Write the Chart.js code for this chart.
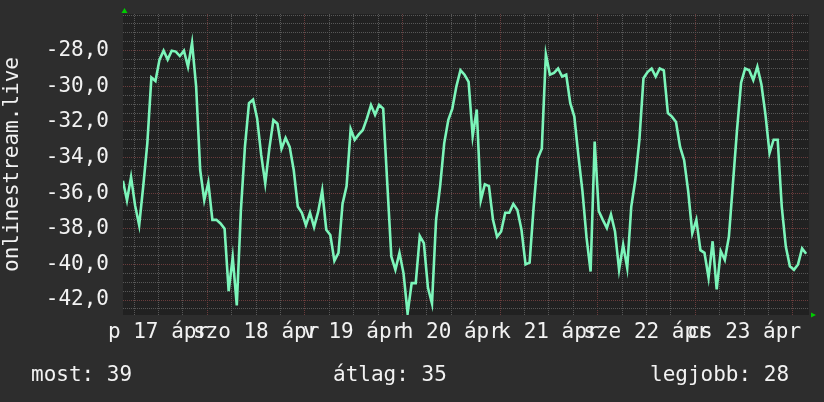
<!DOCTYPE html>
<html lang="hu">
  <head>
    <meta charset="UTF-8" />
    <title>onlinestream.live</title>
    <script src="https://cdn.jsdelivr.net/npm/chart.js"></script>
    <style>
      * {
        margin: 0;
        padding: 0;
      }
      body {
        background: #2d2d2d;
        width: 824px;
        height: 402px;
        overflow: hidden;
      }
      canvas {
        display: block;
      }
    </style>
  </head>
  <body>
    <canvas id="chart" width="824" height="402"></canvas>

    <script>
      // time axis in hours from 17 Apr 00:00
      const startHour = 3.25;
      const stepHours = 1;

      const dayHours = [12, 36, 60, 84, 108, 132, 156];
      const dayLabels = [
        "p 17 ápr",
        "szo 18 ápr",
        "v 19 ápr",
        "h 20 ápr",
        "k 21 ápr",
        "sze 22 ápr",
        "cs 23 ápr",
      ];

      const yLabelValues = [-28, -30, -32, -34, -36, -38, -40, -42];

      // hourly rank values
      const values = [
        -35.3, -36.4, -35.1, -36.7, -37.8, -35.6, -33.2, -29.5, -29.7, -28.5,
        -28.0, -28.5, -28.0, -28.05, -28.3, -28.0, -28.9, -27.55, -30.0, -34.7,
        -36.4, -35.4, -37.5, -37.5, -37.7, -38.0, -41.5, -39.6, -42.3, -37.0,
        -33.4, -30.95, -30.75, -31.8, -33.85, -35.45, -33.5, -31.9, -32.1, -33.5,
        -32.9, -33.4, -34.7, -36.75, -37.1, -37.8, -37.1, -37.9, -37.05, -35.85,
        -38.05, -38.35, -39.8, -39.35, -36.6, -35.6, -32.4, -33.0, -32.7, -32.45,
        -31.8, -31.05, -31.6, -31.05, -31.25, -35.45, -39.55, -40.3, -39.35, -40.5,
        -42.75, -41.05, -41.05, -38.4, -38.8, -41.3, -42.2, -37.5, -35.6, -33.2,
        -31.9, -31.25, -30.0, -29.1, -29.35, -29.75, -32.8, -31.3, -36.4, -35.5,
        -35.6, -37.5, -38.45, -38.15, -37.1, -37.1, -36.6, -36.95, -38.05, -40.0,
        -39.9, -36.75, -34.05, -33.5, -28.2, -29.35, -29.25, -29.0, -29.45, -29.35,
        -30.95, -31.7, -33.9, -35.9, -38.5, -40.4, -33.1, -37.0, -37.5, -37.95,
        -37.2, -38.15, -40.3, -38.9, -40.2, -36.75, -35.25, -33.0, -29.55, -29.2,
        -29.0, -29.45, -29.0, -29.1, -31.5, -31.7, -32.0, -33.4, -34.15, -35.9,
        -38.25, -37.5, -39.2, -39.35, -40.75, -38.7, -41.4, -39.25, -39.75, -38.45,
        -35.45, -32.45, -29.8, -29.0, -29.1, -29.65, -28.9, -29.9, -31.6, -33.75,
        -33.0, -33.0, -36.75, -39.0, -40.1, -40.3, -40.0, -39.1, -39.4,
      ];

      const legendLabels = ["most", "átlag", "legjobb"];
      const legendValues = [39, 35, 28];

      const FONT = '"DejaVu Sans Mono", monospace';
      const TEXT = "#f2f2f2";
      const MINOR = "#575757";
      const MAJOR = "#6a3c3c";

      // backgrounds, arrows and the bottom legend line
      const rrdLook = {
        id: "rrdLook",
        beforeDraw(chart) {
          const { ctx, chartArea: a } = chart;
          ctx.save();
          ctx.fillStyle = "#2d2d2d";
          ctx.fillRect(0, 0, chart.width, chart.height);
          ctx.fillStyle = "#212121";
          ctx.fillRect(a.left, a.top, a.right - a.left, a.bottom - a.top);
          ctx.restore();
        },
        afterDraw(chart) {
          const { ctx, chartArea: a } = chart;
          ctx.save();
          ctx.fillStyle = "#00cc00";
          ctx.beginPath();
          ctx.moveTo(a.left + 1.5, 8);
          ctx.lineTo(a.left + 4.5, 13);
          ctx.lineTo(a.left - 1.5, 13);
          ctx.closePath();
          ctx.fill();
          ctx.beginPath();
          ctx.moveTo(a.right + 7, a.bottom);
          ctx.lineTo(a.right + 2, a.bottom - 2.5);
          ctx.lineTo(a.right + 2, a.bottom + 2.5);
          ctx.closePath();
          ctx.fill();

          ctx.fillStyle = TEXT;
          ctx.font = "21px " + FONT;
          ctx.textBaseline = "alphabetic";
          const xs = [31, 333, 650];
          legendLabels.forEach((l, i) => {
            ctx.fillText(l + ": " + legendValues[i], xs[i], 381);
          });
          ctx.restore();
        },
      };

      const ctx = document.getElementById("chart").getContext("2d");

      new Chart(ctx, {
        type: "line",
        data: {
          datasets: [
            {
              data: values.map((v, i) => ({ x: startHour + i * stepHours, y: v })),
              borderColor: "#7cf5ba",
              borderWidth: 2.6,
              pointRadius: 0,
              tension: 0,
              fill: false,
            },
          ],
        },
        options: {
          responsive: false,
          animation: false,
          layout: { padding: { top: 14, right: 15, left: 0, bottom: 0 } },
          plugins: {
            legend: { display: false },
            tooltip: { enabled: false },
          },
          scales: {
            x: {
              type: "linear",
              min: 3.27,
              max: 171.95,
              afterFit(scale) {
                scale.height = 87;
                scale.paddingLeft = 0;
                scale.paddingRight = 0;
              },
              afterBuildTicks(scale) {
                const t = [];
                for (let h = 6; h <= 168; h += 6) t.push({ value: h });
                scale.ticks = t;
              },
              ticks: {
                autoSkip: false,
                maxRotation: 0,
                minRotation: 0,
                padding: 5,
                color: TEXT,
                font: { family: FONT, size: 21 },
                callback(v) {
                  const i = dayHours.indexOf(v);
                  return i >= 0 ? dayLabels[i] : "";
                },
              },
              grid: {
                drawTicks: false,
                lineWidth: 1,
                color: (c) => (c.tick && c.tick.value % 24 === 0 ? MAJOR : MINOR),
              },
              border: { display: false, dash: [1, 1] },
            },
            y: {
              min: -42.84,
              max: -25.94,
              afterFit(scale) {
                scale.width = 123;
                scale.paddingTop = 0;
                scale.paddingBottom = 0;
              },
              afterBuildTicks(scale) {
                const t = [];
                for (let k = 0; k <= 33; k++) t.push({ value: -42.5 + k * 0.5 });
                scale.ticks = t;
              },
              ticks: {
                autoSkip: false,
                padding: 14,
                color: TEXT,
                font: { family: FONT, size: 21 },
                callback(v) {
                  return yLabelValues.includes(v) ? v.toFixed(1).replace(".", ",") : "";
                },
              },
              title: {
                display: true,
                text: "onlinestream.live",
                color: TEXT,
                font: { family: FONT, size: 21 },
                padding: { top: 0, bottom: 0 },
              },
              grid: {
                drawTicks: false,
                lineWidth: 1,
                color: (c) => (c.tick && yLabelValues.includes(c.tick.value) ? MAJOR : MINOR),
              },
              border: { display: false, dash: [1, 1] },
            },
          },
        },
        plugins: [rrdLook],
      });
    </script>
  </body>
</html>
